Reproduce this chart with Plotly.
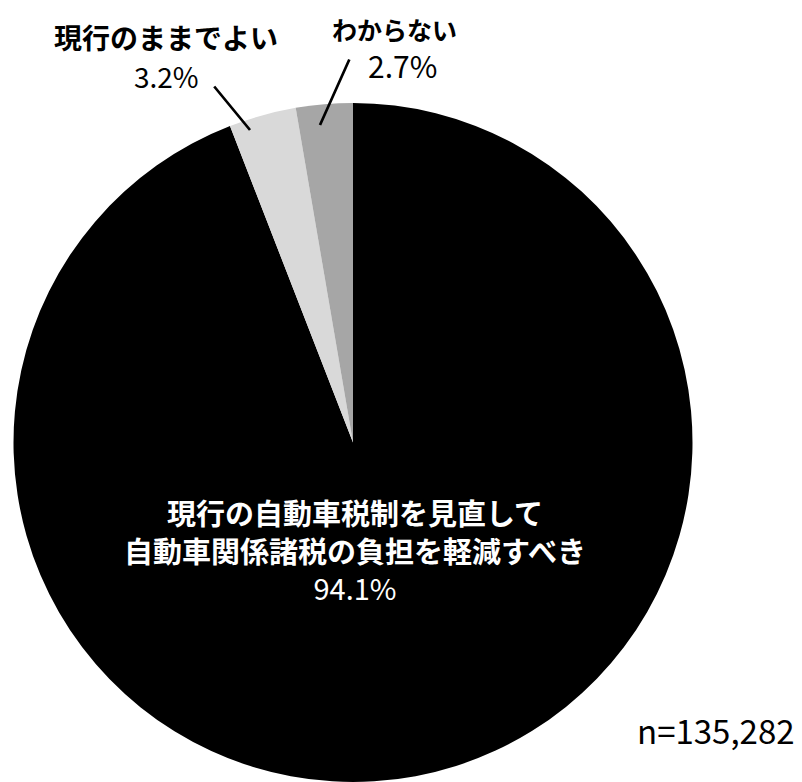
import plotly.graph_objects as go

labels = ["現行の自動車税制を見直して<br>自動車関係諸税の負担を軽減すべき", "現行のままでよい", "わからない"]
values = [94.1, 3.2, 2.7]
colors = ["#000000", "#d9d9d9", "#a6a6a6"]
n_text = "n=135,282"

W, H = 802, 782
OFF = 8  # page body margin in the browser
L, T = 13 - OFF, 103 - OFF
pw, ph = 680, 679
R = W - L - pw
B = H - T - ph

def px(x):
    return (x - OFF - L) / pw

def py(y):
    return (H - B - (y - OFF)) / ph

FONT = "Noto Sans CJK JP"

fig = go.Figure(go.Pie(
    labels=labels, values=values, sort=False, direction="clockwise", rotation=0,
    marker=dict(colors=colors, line=dict(width=0)), textinfo="none",
    hoverinfo="label+percent", showlegend=False,
))

def txt(x, y, text, size, color="black"):
    return dict(x=px(x), y=py(y), xref="paper", yref="paper", showarrow=False,
                xanchor="center", yanchor="middle", text=text, align="center",
                font=dict(family=FONT, size=size, color=color))

main1, main2 = labels[0].split("<br>")
ann = [
    txt(355, 549, "<b>" + main1 + "</b><br><b>" + main2 + "</b><br>" + f"{values[0]:.1f}%", 29, "white"),
    txt(166, 37, "<b>" + labels[1] + "</b>", 28),
    txt(166, 76, f"{values[1]:.1f}%", 28),
    txt(394, 29, "<b>" + labels[2] + "</b>", 25),
    txt(402, 65, f"{values[2]:.1f}%", 30),
    txt(716, 730, n_text, 33),
    # leader lines
    dict(x=px(250), y=py(130), xref="paper", yref="paper", text="", showarrow=True,
         arrowhead=0, arrowwidth=2.7, arrowcolor="black", ax=-37, ay=-45),
    dict(x=px(320), y=py(125), xref="paper", yref="paper", text="", showarrow=True,
         arrowhead=0, arrowwidth=2.7, arrowcolor="black", ax=30, ay=-67),
]

fig.update_layout(
    width=W, height=H, margin=dict(l=L, r=R, t=T, b=B, autoexpand=False),
    paper_bgcolor="white", plot_bgcolor="white", annotations=ann,
)
fig.write_html("out.html")
